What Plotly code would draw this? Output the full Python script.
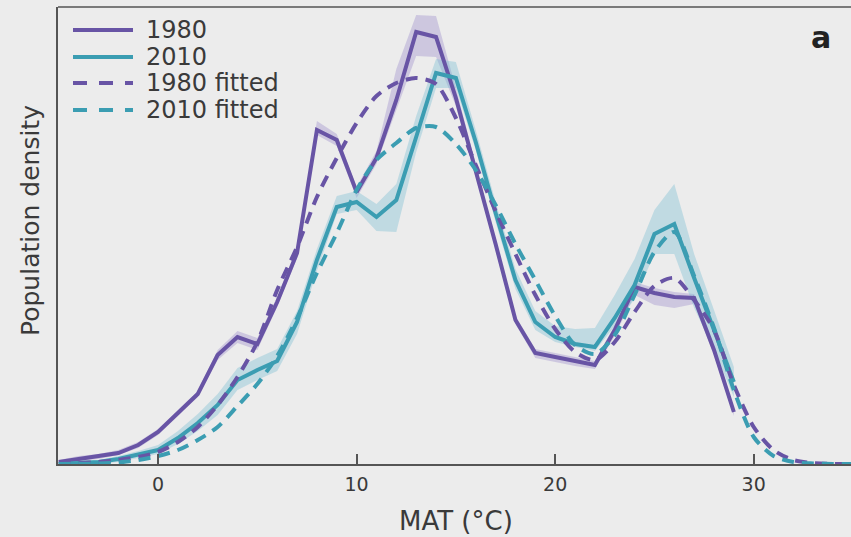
import plotly.graph_objects as go

# ---------------- data ----------------
temps = list(range(-5, 30))          # observed bins (MAT, °C)
fit_temps = list(range(-5, 36))      # fitted curve grid

obs_1980 = [0.2, 0.5, 0.7, 1.1, 1.9, 3.2, 5.1, 7.0, 10.9, 12.7, 12.0, 16.2, 21.1, 33.4, 32.4,
            27.2, 30.6, 36.4, 43.2, 42.7, 36.6, 29.4, 22.0, 14.4, 11.1, 10.7, 10.3, 9.9,
            13.4, 17.7, 17.1, 16.7, 16.6, 11.4, 5.2]
hi_1980 = [0.4, 0.8, 1.0, 1.4, 2.2, 3.5, 5.4, 7.3, 11.4, 13.3, 12.6, 16.7, 21.6, 34.3, 33.0,
           27.7, 31.3, 39.5, 44.9, 44.8, 37.6, 29.9, 22.4, 14.8, 11.5, 11.1, 10.7, 10.3,
           13.9, 18.2, 17.6, 17.2, 17.0, 11.8, 5.5]
lo_1980 = [0.0, 0.3, 0.5, 0.9, 1.6, 2.9, 4.8, 6.7, 10.4, 12.1, 11.4, 15.7, 20.6, 32.9, 31.8,
           26.6, 30.0, 35.4, 40.8, 40.7, 35.8, 28.8, 21.5, 14.0, 10.6, 10.2, 9.8, 9.5,
           12.8, 16.9, 15.9, 15.6, 16.0, 10.9, 4.8]

obs_2010 = [0.0, 0.1, 0.2, 0.5, 0.9, 1.4, 2.6, 4.1, 5.9, 8.4, 9.4, 10.3, 14.2, 20.4, 25.7,
            26.2, 24.7, 26.4, 32.7, 39.1, 38.6, 32.2, 25.1, 18.4, 14.2, 12.7, 12.0, 11.7,
            14.6, 17.9, 23.0, 24.0, 18.6, 13.4, 8.2]
hi_2010 = [0.2, 0.3, 0.4, 0.8, 1.3, 1.9, 3.3, 5.0, 7.0, 9.6, 10.6, 11.5, 15.3, 21.5, 26.8,
           27.3, 26.0, 28.0, 34.8, 40.5, 40.2, 33.4, 26.2, 19.5, 15.3, 13.8, 13.5, 13.6,
           16.9, 20.5, 25.4, 28.0, 21.0, 15.4, 9.7]
lo_2010 = [0.0, 0.0, 0.0, 0.2, 0.6, 1.0, 2.0, 3.3, 4.9, 7.4, 8.4, 9.3, 13.0, 19.3, 25.0,
           25.4, 23.3, 23.2, 31.2, 37.6, 37.6, 31.4, 24.2, 17.5, 13.4, 12.2, 11.7, 11.3,
           13.8, 16.5, 21.0, 21.0, 15.6, 11.4, 6.7]

fit_1980 = [0.05, 0.1, 0.2, 0.4, 0.7, 1.2, 2.2, 3.7, 5.9, 8.7, 12.2, 17.4, 21.7, 26.7, 30.6,
            34.1, 36.8, 38.1, 38.6, 38.0, 34.6, 29.9, 25.3, 21.0, 16.9, 13.5, 11.2, 10.4,
            12.2, 15.2, 17.8, 18.6, 16.4, 13.4, 7.9, 3.7, 1.4, 0.4, 0.1, 0.0, 0.0]
fit_2010 = [0.0, 0.02, 0.05, 0.15, 0.4, 0.8, 1.4, 2.4, 3.7, 5.8, 8.0, 10.8, 14.6, 19.1, 23.1,
            27.4, 30.4, 32.1, 33.6, 33.7, 32.0, 29.4, 25.9, 22.0, 18.4, 14.8, 11.9, 11.0,
            12.9, 16.9, 21.2, 23.2, 18.8, 13.6, 7.4, 2.7, 0.8, 0.2, 0.05, 0.0, 0.0]

tick_vals = [0, 10, 20, 30]
tick_text = ["0", "10", "20", "30"]
legend_labels = ["1980", "2010", "1980 fitted", "2010 fitted"]

# ---------------- style ----------------
PURPLE = "#6854a5"
TEAL = "#3b9db2"
BG = "#ececec"
AXIS = "#555555"
TXT = "#3a3a3a"
FONT = "DejaVu Sans"
LW = 4

fig = go.Figure()

# confidence bands
fig.add_trace(go.Scatter(x=temps + temps[::-1], y=hi_1980 + lo_1980[::-1], fill="toself",
                         fillcolor="rgba(150,132,200,0.35)", line=dict(width=0),
                         hoverinfo="skip", showlegend=False))
fig.add_trace(go.Scatter(x=temps + temps[::-1], y=hi_2010 + lo_2010[::-1], fill="toself",
                         fillcolor="rgba(120,190,210,0.38)", line=dict(width=0),
                         hoverinfo="skip", showlegend=False))

# observed lines
fig.add_trace(go.Scatter(x=temps, y=obs_1980, mode="lines",
                         line=dict(color=PURPLE, width=LW), showlegend=False))
fig.add_trace(go.Scatter(x=temps, y=obs_2010, mode="lines",
                         line=dict(color=TEAL, width=LW), showlegend=False))

# fitted curves
fig.add_trace(go.Scatter(x=fit_temps, y=fit_1980, mode="lines",
                         line=dict(color=PURPLE, width=LW, dash="12px,8px",
                                   shape="spline", smoothing=0.8), showlegend=False))
fig.add_trace(go.Scatter(x=fit_temps, y=fit_2010, mode="lines",
                         line=dict(color=TEAL, width=LW, dash="12px,8px",
                                   shape="spline", smoothing=0.8), showlegend=False))

# ---------------- manual legend ----------------
L, T, W, H = 58, 7, 793, 457  # plot area in px


def px(xp):
    return (xp - L) / W


def py(yp):
    return (T + H - yp) / H


legend_rows = [30, 57, 83, 110]
legend_colors = [PURPLE, TEAL, PURPLE, TEAL]
legend_dash = ["solid", "solid", "14px,12px", "14px,12px"]
for yy, col, dsh, lab in zip(legend_rows, legend_colors, legend_dash, legend_labels):
    fig.add_shape(type="line", xref="paper", yref="paper",
                  x0=px(73), x1=px(133), y0=py(yy), y1=py(yy),
                  line=dict(color=col, width=LW, dash=dsh))
    fig.add_annotation(xref="paper", yref="paper", x=px(144), y=py(yy),
                       text=lab, showarrow=False, xanchor="left", yanchor="middle",
                       font=dict(family=FONT, size=24, color=TXT))

# top frame line
fig.add_shape(type="line", xref="paper", yref="paper", x0=0, x1=1, y0=1, y1=1,
              line=dict(color=AXIS, width=1.5))

# panel label
fig.add_annotation(xref="paper", yref="paper", x=px(821), y=py(37), text="<b>a</b>",
                   showarrow=False, xanchor="center", yanchor="middle",
                   font=dict(family="DejaVu Sans", size=30, color="#222222"))

# axis titles
fig.add_annotation(xref="paper", yref="paper", x=px(456), y=py(521), text="MAT (°C)",
                   showarrow=False, xanchor="center", yanchor="middle",
                   font=dict(family=FONT, size=26, color=TXT))
fig.add_annotation(xref="paper", yref="paper", x=px(30), y=py(221), text="Population density",
                   showarrow=False, xanchor="center", yanchor="middle", textangle=-90,
                   font=dict(family=FONT, size=25, color=TXT))

fig.update_layout(
    width=851, height=537,
    margin=dict(l=L, r=0, t=T, b=537 - T - H),
    paper_bgcolor=BG, plot_bgcolor=BG,
    showlegend=False,
    xaxis=dict(range=[-5.04, 34.9], tickvals=tick_vals, ticktext=tick_text,
               ticks="inside", ticklen=10, tickwidth=1.5, tickcolor=AXIS,
               showline=True, linecolor=AXIS, linewidth=1.5,
               showgrid=False, zeroline=False, ticklabelstandoff=2,
               tickfont=dict(family=FONT, size=19, color=TXT)),
    yaxis=dict(range=[0, 45.7], showticklabels=False, ticks="",
               showline=True, linecolor=AXIS, linewidth=1.5,
               showgrid=False, zeroline=False),
)

fig.write_html("out.html")
